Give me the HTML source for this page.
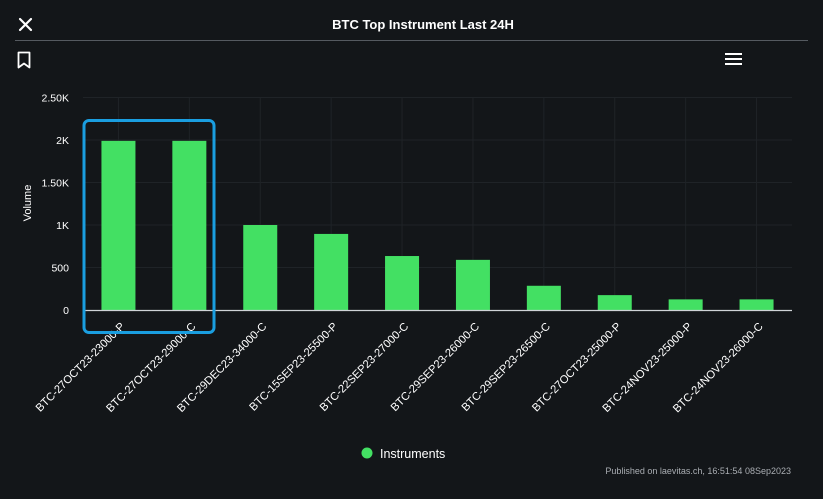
<!DOCTYPE html>
<html><head><meta charset="utf-8"><style>
html,body{margin:0;padding:0;background:#131619;}
body{width:823px;height:499px;overflow:hidden;position:relative;font-family:"Liberation Sans",sans-serif;color:#fff;}
</style></head><body>
<svg width="823" height="499" style="position:absolute;left:0;top:0">
<rect width="823" height="499" fill="#131619"/>
<g stroke="#fff" stroke-width="2.2" stroke-linecap="round"><line x1="20" y1="19" x2="31" y2="30"/><line x1="31" y1="19" x2="20" y2="30"/></g>
<text x="423" y="29" text-anchor="middle" font-size="13" font-weight="bold" fill="#fff">BTC Top Instrument Last 24H</text>
<line x1="15" y1="40.5" x2="808" y2="40.5" stroke="#555a60" stroke-width="1"/>
<path d="M18.5 52.5 h11 v15 l-5.5 -4 l-5.5 4 z" fill="none" stroke="#fff" stroke-width="1.8" stroke-linejoin="round"/>
<g stroke="#fff" stroke-width="2"><line x1="725" y1="54" x2="742" y2="54"/><line x1="725" y1="59" x2="742" y2="59"/><line x1="725" y1="64" x2="742" y2="64"/></g>
<g id="grid"></g><g id="bars"></g><g id="axes"></g>
<rect x="84" y="120.5" width="130" height="212" rx="5" fill="none" stroke="#1a9ee0" stroke-width="3"/>
<circle cx="367" cy="453" r="5.5" fill="#43e063"/>
<text x="380" y="458" font-size="12.5" fill="#fff">Instruments</text>
<text x="791" y="474" text-anchor="end" font-size="9" fill="#a9adb2">Published on laevitas.ch, 16:51:54 08Sep2023</text>
</svg>
<script>
const categories=["BTC-27OCT23-23000-P","BTC-27OCT23-29000-C","BTC-29DEC23-34000-C","BTC-15SEP23-25500-P","BTC-22SEP23-27000-C","BTC-29SEP23-26000-C","BTC-29SEP23-26500-C","BTC-27OCT23-25000-P","BTC-24NOV23-25000-P","BTC-24NOV23-26000-C"];
const volumes=[1990,1990,1000,895,635,590,285,175,125,125];
const tickValues=[0,500,1000,1500,2000,2500];
const tickLabels=["0","500","1K","1.50K","2K","2.50K"];
const NS="http://www.w3.org/2000/svg";
const X0=83,X1=792,Y0=310,YMAX=2500,YTOP=97.5;
const band=(X1-X0)/categories.length;
const x=i=>X0+band*(i+0.5);
const y=v=>Y0-(Y0-YTOP)*v/YMAX;
function mk(t,a,p){const e=document.createElementNS(NS,t);for(const k in a)e.setAttribute(k,a[k]);p.appendChild(e);return e;}
const grid=document.getElementById('grid'),bars=document.getElementById('bars'),axes=document.getElementById('axes');
tickValues.forEach((v,i)=>{
 if(v>0){const l=mk('line',{x1:X0,x2:X1,y1:y(v),y2:y(v),stroke:'#1f2327','stroke-width':1},grid);
 
 }
 const t=mk('text',{x:69,y:y(v)+4,'text-anchor':'end','font-size':10.5,fill:'#fff'},axes);t.textContent=tickLabels[i];
 
 
});
categories.forEach((c,i)=>{
 const g=mk('line',{x1:x(i),x2:x(i),y1:YTOP,y2:Y0,stroke:'#1f2327','stroke-width':1},grid);
 
 
 const b=mk('rect',{x:x(i)-17,y:y(volumes[i]),width:34,height:Y0-y(volumes[i]),fill:'#43e063'},bars);
 
 
 const t=mk('text',{x:x(i)+7,y:327,'text-anchor':'end','font-size':11.2,fill:'#fff',transform:`rotate(-45 ${x(i)+7} 327)`},axes);
 t.textContent=c;
 
 
});
const ax=mk('line',{x1:X0,x2:X1,y1:Y0+0.5,y2:Y0+0.5,stroke:'#d0d4d8','stroke-width':1.2},axes);


const yt=mk('text',{x:31,y:203,'text-anchor':'middle','font-size':11,fill:'#fff',transform:'rotate(-90 31 203)'},axes);
yt.textContent='Volume';


</script>
</body></html>
